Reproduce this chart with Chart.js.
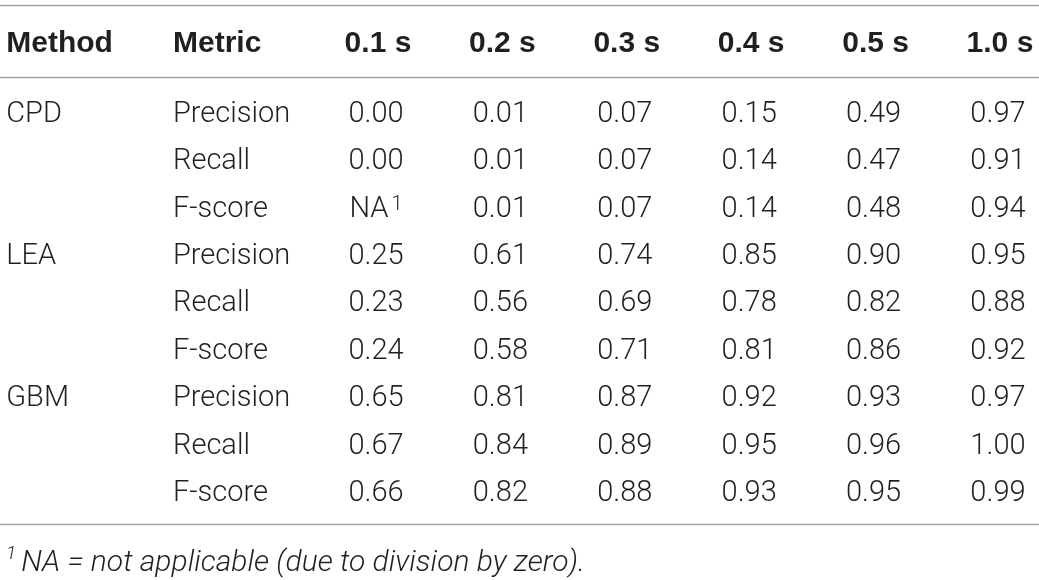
<!DOCTYPE html>
<html><head><meta charset="utf-8">
<script src="https://cdn.jsdelivr.net/npm/chart.js@4.4.0/dist/chart.umd.min.js"></script>
<style>html,body{margin:0;padding:0;background:#fff;}#wrap{width:1039px;height:580px;}</style>
</head><body><div id="wrap"><canvas id="c" width="1039" height="580"></canvas></div>
<script>
// ---- data ----
const headerLabels = ['Method', 'Metric'];
const timeColumns = ['0.1 s', '0.2 s', '0.3 s', '0.4 s', '0.5 s', '1.0 s'];
const rowMethods = ['CPD', '', '', 'LEA', '', '', 'GBM', '', ''];
const rowMetrics = ['Precision', 'Recall', 'F-score', 'Precision', 'Recall', 'F-score', 'Precision', 'Recall', 'F-score'];
const cpdPrecision = [0.00, 0.01, 0.07, 0.15, 0.49, 0.97];
const cpdRecall    = [0.00, 0.01, 0.07, 0.14, 0.47, 0.91];
const cpdFscore    = [null, 0.01, 0.07, 0.14, 0.48, 0.94];
const leaPrecision = [0.25, 0.61, 0.74, 0.85, 0.90, 0.95];
const leaRecall    = [0.23, 0.56, 0.69, 0.78, 0.82, 0.88];
const leaFscore    = [0.24, 0.58, 0.71, 0.81, 0.86, 0.92];
const gbmPrecision = [0.65, 0.81, 0.87, 0.92, 0.93, 0.97];
const gbmRecall    = [0.67, 0.84, 0.89, 0.95, 0.96, 1.00];
const gbmFscore    = [0.66, 0.82, 0.88, 0.93, 0.95, 0.99];
const rowValues = [cpdPrecision, cpdRecall, cpdFscore, leaPrecision, leaRecall, leaFscore, gbmPrecision, gbmRecall, gbmFscore];
const naLabel = 'NA';
const naMark = '1';
const footnoteText = 'NA = not applicable (due to division by zero).';

// ---- layout (scale coordinates) ----
const HEADER_Y = -1.481;
const METHOD_X = -2.972, METRIC_X = -1.632;
const RULES_Y = [-2.247, -0.734, 8.703];
const FOOT_Y = 9.473;
const FOOT_X = -2.975;

const FAMILY = 'Roboto, "Liberation Sans", sans-serif';
const BODY_SIZE = 29, HEAD_SIZE = 30, FOOT_SIZE = 30, SUP_SIZE = 20;
const BODY_FONT = '300 ' + BODY_SIZE + 'px ' + FAMILY;
const HEAD_FONT = 'bold ' + HEAD_SIZE + 'px "Liberation Sans", Arial, sans-serif';
const SUP_FONT = '300 ' + SUP_SIZE + 'px ' + FAMILY;
const FOOT_FONT = 'italic 300 ' + FOOT_SIZE + 'px ' + FAMILY;
const FOOT_SUP_FONT = 'italic 300 19px ' + FAMILY;
const TEXT_COLOR = '#231f20';
const CAP = 0.712;

const datasets = rowValues.map((vals, r) => ({
  label: rowMetrics[r],
  data: vals.map((v, i) => ({ x: i, y: r, v: v })),
  pointRadius: 0, showLine: false
}));
datasets.push({
  label: 'header',
  data: timeColumns.map((c, i) => ({ x: i, y: HEADER_Y, t: c })),
  pointRadius: 0, showLine: false
});

const tablePlugin = {
  id: 'tablePlugin',
  afterDatasetsDraw(chart) {
    const ctx = chart.ctx, xs = chart.scales.x, ys = chart.scales.y;
    ctx.save();
    ctx.strokeStyle = '#a3a3a3';
    ctx.lineWidth = 1.7;
    RULES_Y.forEach(v => {
      const py = Math.round(ys.getPixelForValue(v)) + 0.5;
      ctx.beginPath(); ctx.moveTo(chart.chartArea.left, py); ctx.lineTo(chart.chartArea.right, py); ctx.stroke();
    });
    ctx.fillStyle = TEXT_COLOR;
    ctx.textBaseline = 'alphabetic';
    // header
    const hb = ys.getPixelForValue(HEADER_Y) + HEAD_SIZE * 0.716 / 2;
    ctx.font = HEAD_FONT;
    ctx.textAlign = 'left';
    ctx.fillText(headerLabels[0], xs.getPixelForValue(METHOD_X), hb);
    ctx.fillText(headerLabels[1], xs.getPixelForValue(METRIC_X), hb);
    ctx.textAlign = 'center';
    const hmeta = chart.getDatasetMeta(chart.data.datasets.length - 1);
    hmeta.data.forEach((el, i) => ctx.fillText(timeColumns[i], el.x + 2, el.y + HEAD_SIZE * 0.716 / 2));
    // body
    const off = BODY_SIZE * CAP / 2;
    ctx.font = BODY_FONT;
    for (let r = 0; r < rowValues.length; r++) {
      const py = ys.getPixelForValue(r) + off;
      ctx.textAlign = 'left';
      if (rowMethods[r]) ctx.fillText(rowMethods[r], xs.getPixelForValue(METHOD_X), py);
      ctx.fillText(rowMetrics[r], xs.getPixelForValue(METRIC_X), py);
      const meta = chart.getDatasetMeta(r);
      meta.data.forEach((el, i) => {
        const v = rowValues[r][i];
        const by = el.y + off;
        if (v === null) {
          ctx.font = BODY_FONT;
          const w1 = ctx.measureText(naLabel).width;
          ctx.font = SUP_FONT;
          const w2 = ctx.measureText(naMark).width;
          const gap = 3;
          const x0 = el.x - (w1 + w2 + gap) / 2;
          ctx.textAlign = 'left';
          ctx.font = BODY_FONT;
          ctx.fillText(naLabel, x0, by);
          ctx.font = SUP_FONT;
          ctx.fillText(naMark, x0 + w1 + gap, by - 7);
          ctx.font = BODY_FONT;
        } else {
          ctx.textAlign = 'center';
          ctx.fillText(v.toFixed(2), el.x, by);
        }
      });
    }
    // footnote
    const fb = ys.getPixelForValue(FOOT_Y) + FOOT_SIZE * CAP / 2;
    let fx = xs.getPixelForValue(FOOT_X);
    ctx.textAlign = 'left';
    ctx.font = FOOT_SUP_FONT;
    ctx.fillText(naMark, fx, fb - 12);
    fx += ctx.measureText(naMark).width + 5;
    ctx.font = FOOT_FONT;
    ctx.fillText(footnoteText, fx, fb);
    ctx.restore();
  }
};

new Chart(document.getElementById('c'), {
  type: 'scatter',
  data: { datasets: datasets },
  options: {
    responsive: false,
    animation: false,
    layout: { padding: 0 },
    plugins: { legend: { display: false }, tooltip: { enabled: false } },
    scales: {
      x: { type: 'linear', display: false, min: -3.0225, max: 5.33 },
      y: { type: 'linear', display: false, reverse: true, min: -2.352, max: 9.884 }
    }
  },
  plugins: [tablePlugin]
});
</script></body></html>
